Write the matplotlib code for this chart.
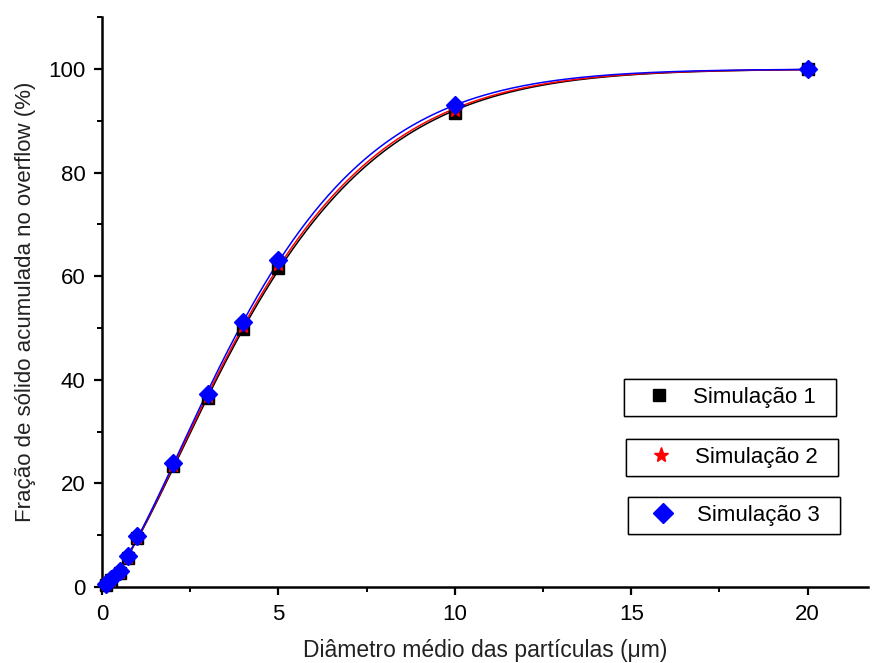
import numpy as np
import matplotlib
matplotlib.use("Agg")
import matplotlib.pyplot as plt
from matplotlib.ticker import MultipleLocator

plt.rcParams['font.family'] = ['Liberation Sans', 'DejaVu Sans']

# particle diameter (um)
diam = [0.1, 0.25, 0.5, 0.75, 1, 2, 3, 4, 5, 10, 20]
# cumulative solid fraction in the overflow (%)
sim1 = [0.4, 1.3, 2.8, 5.6, 9.4, 23.3, 36.4, 49.8, 61.6, 91.6, 100.0]
sim2 = [0.5, 1.4, 2.9, 5.8, 9.6, 23.6, 36.8, 50.4, 62.3, 92.1, 100.0]
sim3 = [0.6, 1.5, 3.0, 6.0, 9.9, 24.0, 37.3, 51.2, 63.2, 93.1, 100.0]

labels = ['Simulação 1', 'Simulação 2', 'Simulação 3']
colors = ['black', 'red', 'blue']
markers = ['s', '*', 'D']
msizes = [8, 10, 9]


def rosin_rammler_fit(x, y):
    # least squares fit (grid search) of y = 100*(1-exp(-(x/d)^n))
    x = np.asarray(x, float)
    y = np.asarray(y, float)
    best = None
    for n in np.linspace(0.8, 2.5, 171):
        for d in np.linspace(2.0, 10.0, 401):
            err = np.sum((100 * (1 - np.exp(-(x / d) ** n)) - y) ** 2)
            if best is None or err < best[0]:
                best = (err, n, d)
    _, n, d = best
    xs = np.linspace(0, max(x), 400)
    return xs, 100 * (1 - np.exp(-(xs / d) ** n))


fig = plt.figure(figsize=(8.72, 6.63), dpi=100)
ax = fig.add_axes([0.117, 0.1146, 0.878, 0.8594])

series = [sim1, sim2, sim3]
for s, c in zip(series, colors):
    xs, ys = rosin_rammler_fit(diam, s)
    ax.plot(xs, ys, color=c, lw=1.1, zorder=2)

handles = []
for s, c, m, ms, lab in zip(series, colors, markers, msizes, labels):
    h, = ax.plot(diam, s, ls='none', marker=m, color=c, ms=ms, label=lab + '  ',
                 zorder=3, clip_on=False)
    handles.append(h)

ax.set_xlim(0, 21.7)
ax.set_ylim(0, 110)
ax.xaxis.set_major_locator(MultipleLocator(5))
ax.xaxis.set_minor_locator(MultipleLocator(2.5))
ax.yaxis.set_major_locator(MultipleLocator(20))
ax.yaxis.set_minor_locator(MultipleLocator(10))
ax.set_xticks([0, 5, 10, 15, 20])
ax.set_yticks([0, 20, 40, 60, 80, 100])

for side in ['top', 'right']:
    ax.spines[side].set_visible(False)
for side in ['left', 'bottom']:
    ax.spines[side].set_linewidth(1.8)
ax.tick_params(which='major', direction='out', length=6, width=1.6, labelsize=16, pad=6)
ax.tick_params(which='minor', direction='out', length=3.5, width=1.4)

ax.set_xlabel('Diâmetro médio das partículas (μm)', fontsize=16.5, color='#222222', labelpad=10)
ax.set_ylabel('Fração de sólido acumulada no overflow (%)', fontsize=16, color='#222222', labelpad=9)

# three separate legend boxes
anchors = [(0.7156, 0.3725), (0.7179, 0.282), (0.7202, 0.1946)]
for h, anc in zip(handles, anchors):
    leg = fig.legend(handles=[h], loc='lower left', bbox_to_anchor=anc,
                     bbox_transform=fig.transFigure, fontsize=16, fancybox=False,
                     edgecolor='black', framealpha=1, handlelength=2.4,
                     handletextpad=0.34, borderpad=0.36, borderaxespad=0,
                     markerscale=1.1)
    leg.get_frame().set_linewidth(1.0)
    fig.add_artist(leg)

fig.savefig('out.png', dpi=100)
